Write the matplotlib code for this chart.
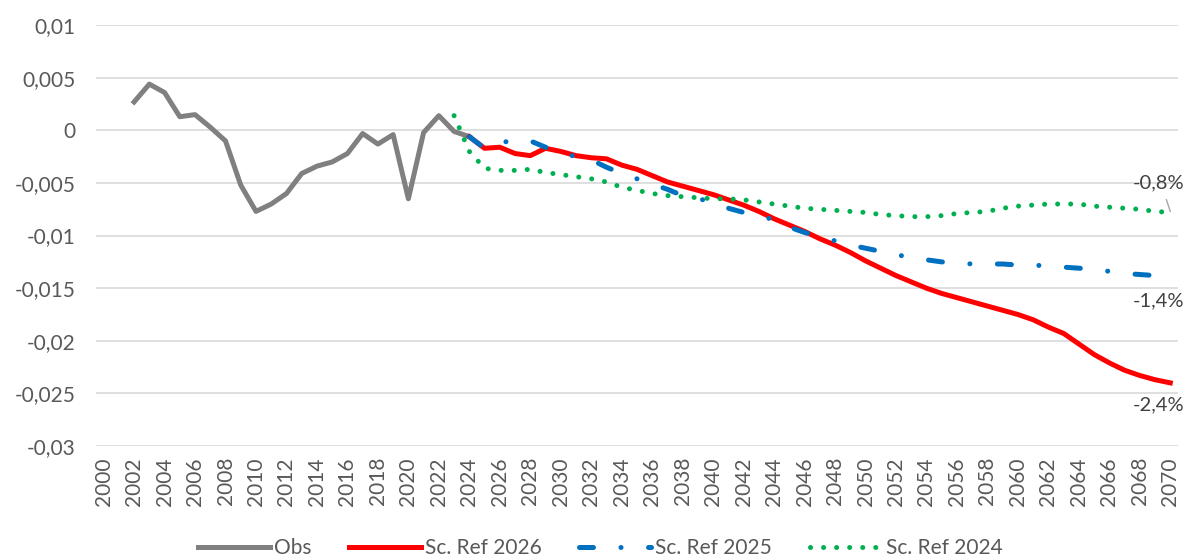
import numpy as np
import matplotlib
matplotlib.use("Agg")
import matplotlib.pyplot as plt
from matplotlib.ticker import FuncFormatter

plt.rcParams['font.family'] = ['Lato', 'DejaVu Sans']

# observed series
obs_years = list(range(2002, 2025))
obs = [0.0027, 0.0044, 0.0036, 0.0013, 0.0015, 0.0003, -0.0010, -0.0052, -0.0077,
       -0.0070, -0.0060, -0.0041, -0.0034, -0.0030, -0.0022, -0.0003, -0.0013,
       -0.0004, -0.0065, -0.0002, 0.0014, -0.0001, -0.0006]

# scenario Ref 2026 (2024-2070)
ref26_years = list(range(2024, 2071))
ref26 = [-0.0006, -0.0017, -0.0016, -0.0022, -0.0024, -0.0017, -0.0020, -0.0024,
         -0.0026, -0.0027, -0.0033, -0.0037, -0.0043, -0.0049, -0.0053, -0.0057,
         -0.0061, -0.0066, -0.0071, -0.0077, -0.0084, -0.0090, -0.0096, -0.0103,
         -0.0109, -0.0116, -0.0124, -0.0131, -0.0138, -0.0144, -0.0150, -0.0155,
         -0.0159, -0.0163, -0.0167, -0.0171, -0.0175, -0.0180, -0.0187, -0.0193,
         -0.0203, -0.0213, -0.0221, -0.0228, -0.0233, -0.0237, -0.0240]

# scenario Ref 2025 (2024-2070)
ref25_years = list(range(2024, 2071))
ref25 = [-0.0006, -0.0017, -0.0012, -0.0009, -0.0010, -0.0016, -0.0021, -0.0025,
         -0.0028, -0.0035, -0.0041, -0.0046, -0.0051, -0.0056, -0.0062, -0.0065,
         -0.0068, -0.0074, -0.0078, -0.0081, -0.0085, -0.0092, -0.0097, -0.0101,
         -0.0105, -0.0109, -0.0112, -0.0115, -0.0118, -0.0121, -0.0123, -0.0125,
         -0.0126, -0.0127, -0.0127, -0.0127, -0.0128, -0.0128, -0.0129, -0.0130,
         -0.0131, -0.0132, -0.0134, -0.0136, -0.0137, -0.0138, -0.0140]

# scenario Ref 2024 (2023-2070)
ref24_years = list(range(2023, 2071))
ref24 = [0.0014, -0.0020, -0.0036, -0.0038, -0.0038, -0.0037, -0.0040, -0.0042,
         -0.0044, -0.0046, -0.0049, -0.0054, -0.0057, -0.0060, -0.0062, -0.0063,
         -0.0064, -0.0065, -0.0065, -0.0066, -0.0068, -0.0070, -0.0072, -0.0074,
         -0.0075, -0.0076, -0.0077, -0.0078, -0.0080, -0.0081, -0.0082, -0.0082,
         -0.0081, -0.0079, -0.0078, -0.0077, -0.0074, -0.0072, -0.0071, -0.0070,
         -0.0070, -0.0070, -0.0072, -0.0073, -0.0074, -0.0075, -0.0077, -0.0078]

end_labels = ["-0,8%", "-1,4%", "-2,4%"]
end_label_y = [-0.0050, -0.0162, -0.0261]

fig = plt.figure(figsize=(11.91, 5.6), dpi=100)
ax = fig.add_axes([0.0806, 0.2036, 0.9084, 0.7514])

lw = 3.6
ax.plot(obs_years, obs, color='#808080', lw=lw, label='Obs', solid_joinstyle='round')
ax.plot(ref26_years, ref26, color='#FF0000', lw=lw, label='Sc. Ref 2026', solid_joinstyle='round')
ax.plot(ref25_years, ref25, color='#0070C0', lw=lw, label='Sc. Ref 2025',
        dashes=[2.8, 5.5, 0.01, 5.5], dash_capstyle='round')
ax.plot(ref24_years, ref24, color='#00B050', lw=lw, label='Sc. Ref 2024',
        dashes=[0.01, 2.6], dash_capstyle='round')

# end labels
for txt, yv in zip(end_labels, end_label_y):
    ax.text(2070.9, yv, txt, ha='right', va='center', fontsize=14.5, color='#404040',
            clip_on=False)
ax.plot([2069.75, 2070.0], [-0.0066, -0.0077], color='#a6a6a6', lw=1, clip_on=False)

ax.set_xlim(1999.5, 2070.5)
ax.set_ylim(-0.03, 0.01)
ax.set_xticks(range(2000, 2071, 2))
ax.set_xticklabels([str(y) for y in range(2000, 2071, 2)], rotation=90)
ax.set_yticks(np.arange(-0.03, 0.0101, 0.005))
ax.yaxis.set_major_formatter(FuncFormatter(
    lambda v, p: "0" if abs(v) < 1e-9 else f"{round(v, 3):g}".replace('.', ',')))

ax.grid(axis='y', color='#d9d9d9', lw=1.2)
ax.set_axisbelow(True)
for s in ax.spines.values():
    s.set_visible(False)
ax.tick_params(axis='both', length=0, labelsize=15, colors='#595959')
ax.tick_params(axis='y', pad=15)
ax.tick_params(axis='x', pad=8)

ax.legend(loc='center', bbox_to_anchor=(0.466, -0.242), ncol=4, frameon=False,
          fontsize=15, handlelength=3.45, columnspacing=1.8, handletextpad=0.2,
          labelcolor='#595959')

fig.savefig('out.png', dpi=100)
